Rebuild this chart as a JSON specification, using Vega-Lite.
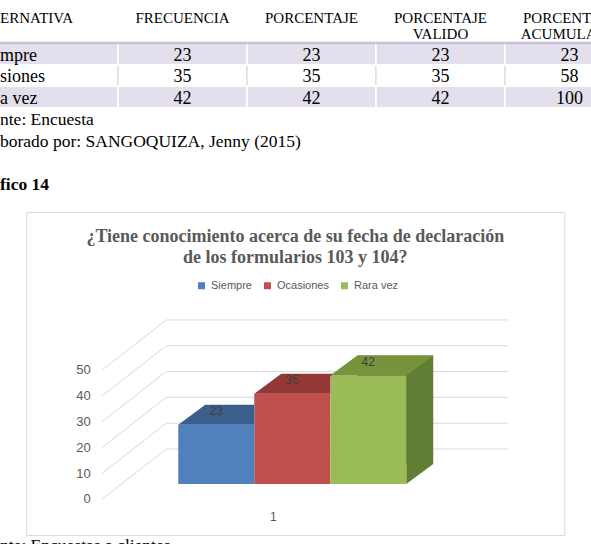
{
  "$schema": "https://vega.github.io/schema/vega-lite/v6.json",
  "padding": 0,
  "background": "white",
  "spacing": 0,
  "center": true,
  "datasets": {
    "tabla": [
      {"row": "h1", "col": "c1", "t": "ERNATIVA"},
      {"row": "h1", "col": "c2", "t": "FRECUENCIA"},
      {"row": "h1", "col": "c3", "t": "PORCENTAJE"},
      {"row": "h1", "col": "c4", "t": "PORCENTAJE"},
      {"row": "h1", "col": "c5", "t": "PORCENTAJE"},
      {"row": "h2", "col": "c4", "t": "VALIDO"},
      {"row": "h2", "col": "c5", "t": "ACUMULADO"},
      {"row": "r1", "col": "c1", "t": "mpre"},
      {"row": "r1", "col": "c2", "t": "23"},
      {"row": "r1", "col": "c3", "t": "23"},
      {"row": "r1", "col": "c4", "t": "23"},
      {"row": "r1", "col": "c5", "t": "23"},
      {"row": "r2", "col": "c1", "t": "siones"},
      {"row": "r2", "col": "c2", "t": "35"},
      {"row": "r2", "col": "c3", "t": "35"},
      {"row": "r2", "col": "c4", "t": "35"},
      {"row": "r2", "col": "c5", "t": "58"},
      {"row": "r3", "col": "c1", "t": "a vez"},
      {"row": "r3", "col": "c2", "t": "42"},
      {"row": "r3", "col": "c3", "t": "42"},
      {"row": "r3", "col": "c4", "t": "42"},
      {"row": "r3", "col": "c5", "t": "100"},
      {"row": "f1", "col": "c1", "t": "nte: Encuesta"},
      {"row": "f2", "col": "c1", "t": "borado por: SANGOQUIZA, Jenny (2015)"},
      {"row": "g", "col": "c1", "t": "fico 14"}
    ],
    "celdas": [
      {"row": "r1", "col": "c1"}, {"row": "r1", "col": "c2"}, {"row": "r1", "col": "c3"}, {"row": "r1", "col": "c4"}, {"row": "r1", "col": "c5"},
      {"row": "r2", "col": "c1"}, {"row": "r2", "col": "c2"}, {"row": "r2", "col": "c3"}, {"row": "r2", "col": "c4"}, {"row": "r2", "col": "c5"},
      {"row": "r3", "col": "c1"}, {"row": "r3", "col": "c2"}, {"row": "r3", "col": "c3"}, {"row": "r3", "col": "c4"}, {"row": "r3", "col": "c5"}
    ],
    "serie": [
      {"serie": "Siempre", "valor": 23},
      {"serie": "Ocasiones", "valor": 35},
      {"serie": "Rara vez", "valor": 42}
    ],
    "ticks": [{"v": 0}, {"v": 10}, {"v": 20}, {"v": 30}, {"v": 40}, {"v": 50}]
  },
  "vconcat": [
    {
      "width": 591,
      "height": 211,
      "view": {"stroke": null},
      "layer": [
        {
          "data": {"name": "celdas"},
          "transform": [{"filter": {"field": "row", "equal": "r2"}}],
          "mark": {"type": "rect", "fill": "white", "stroke": "#d6d1df", "strokeWidth": 1, "clip": true},
          "encoding": {
            "x": {"field": "col", "type": "nominal", "axis": null, "scale": {"type": "band", "domain": ["c1", "c2", "c3", "c4", "c5"], "range": [-11, 634], "paddingInner": 0, "paddingOuter": 0}},
            "y": {"field": "row", "type": "nominal", "axis": null, "scale": {"type": "band", "domain": ["h1", "h2", "r1", "r2", "r3", "f1", "f2", "f3", "g"], "paddingInner": 0, "paddingOuter": 0.394, "align": 0}}
          }
        },
        {
          "data": {"name": "celdas"},
          "transform": [{"filter": {"field": "row", "oneOf": ["r1", "r3"]}}],
          "mark": {"type": "rect", "fill": "#e4dfec", "stroke": "white", "strokeWidth": 1.5, "clip": true},
          "encoding": {
            "x": {"field": "col", "type": "nominal"},
            "y": {"field": "row", "type": "nominal"}
          }
        },
        {
          "data": {"values": [{"row": "r1"}]},
          "mark": {"type": "rule", "color": "#c8c0da", "strokeWidth": 2.5, "clip": true},
          "encoding": {
            "y": {"field": "row", "type": "nominal", "bandPosition": 0}
          }
        },
        {
          "data": {"name": "tabla"},
          "transform": [{"filter": {"and": [{"field": "row", "equal": "h1"}, {"not": {"field": "col", "equal": "c1"}}]}}],
          "mark": {"type": "text", "font": "Liberation Serif", "fontSize": 15, "dy": 7, "color": "black", "clip": true},
          "encoding": {
            "x": {"field": "col", "type": "nominal"},
            "y": {"field": "row", "type": "nominal"},
            "text": {"field": "t"}
          }
        },
        {
          "data": {"name": "tabla"},
          "transform": [{"filter": {"field": "row", "equal": "h2"}}],
          "mark": {"type": "text", "font": "Liberation Serif", "fontSize": 15, "dy": 2, "color": "black", "clip": true},
          "encoding": {
            "x": {"field": "col", "type": "nominal"},
            "y": {"field": "row", "type": "nominal"},
            "text": {"field": "t"}
          }
        },
        {
          "data": {"name": "tabla"},
          "transform": [{"filter": {"and": [{"field": "row", "equal": "h1"}, {"field": "col", "equal": "c1"}]}}],
          "mark": {"type": "text", "font": "Liberation Serif", "fontSize": 15, "dy": 7, "dx": 11, "align": "left", "color": "black", "clip": true},
          "encoding": {
            "x": {"field": "col", "type": "nominal", "bandPosition": 0},
            "y": {"field": "row", "type": "nominal"},
            "text": {"field": "t"}
          }
        },
        {
          "data": {"name": "tabla"},
          "transform": [{"filter": {"and": [{"field": "row", "oneOf": ["r1", "r2", "r3"]}, {"not": {"field": "col", "equal": "c1"}}]}}],
          "mark": {"type": "text", "font": "Liberation Serif", "fontSize": 18, "dy": 2, "color": "black", "clip": true},
          "encoding": {
            "x": {"field": "col", "type": "nominal"},
            "y": {"field": "row", "type": "nominal"},
            "text": {"field": "t"}
          }
        },
        {
          "data": {"name": "tabla"},
          "transform": [{"filter": {"and": [{"field": "row", "oneOf": ["r1", "r2", "r3"]}, {"field": "col", "equal": "c1"}]}}],
          "mark": {"type": "text", "font": "Liberation Serif", "fontSize": 18, "dy": 2, "dx": 11, "align": "left", "color": "black", "clip": true},
          "encoding": {
            "x": {"field": "col", "type": "nominal", "bandPosition": 0},
            "y": {"field": "row", "type": "nominal"},
            "text": {"field": "t"}
          }
        },
        {
          "data": {"name": "tabla"},
          "transform": [{"filter": {"field": "row", "oneOf": ["f1", "f2"]}}],
          "mark": {"type": "text", "font": "Liberation Serif", "fontSize": 17.5, "dy": 1.5, "dx": 11, "align": "left", "color": "black", "clip": true},
          "encoding": {
            "x": {"field": "col", "type": "nominal", "bandPosition": 0},
            "y": {"field": "row", "type": "nominal"},
            "text": {"field": "t"}
          }
        },
        {
          "data": {"name": "tabla"},
          "transform": [{"filter": {"field": "row", "equal": "g"}}],
          "mark": {"type": "text", "font": "Liberation Serif", "fontSize": 17.5, "fontWeight": "bold", "dy": 2, "dx": 11, "align": "left", "color": "black", "clip": true},
          "encoding": {
            "x": {"field": "col", "type": "nominal", "bandPosition": 0},
            "y": {"field": "row", "type": "nominal"},
            "text": {"field": "t"}
          }
        }
      ]
    },
    {
      "width": 538,
      "height": 323,
      "view": {"stroke": "#d9d9d9", "strokeWidth": 1, "fill": "white"},
      "title": {
        "text": ["¿Tiene conocimiento acerca de su fecha de declaración", "de los formularios 103 y 104?"],
        "font": "Liberation Serif",
        "fontSize": 18,
        "fontWeight": "bold",
        "color": "#595959",
        "anchor": "middle",
        "frame": "group",
        "offset": -55,
        "lineHeight": 21
      },
      "layer": [
        {
          "data": {"name": "ticks"},
          "mark": {"type": "rule", "color": "#d9d9d9", "strokeWidth": 1, "xOffset": -50, "x2Offset": 140, "yOffset": -35},
          "encoding": {
            "x": {"datum": "Siempre", "type": "nominal", "axis": null, "scale": {"type": "band", "domain": ["Siempre", "Ocasiones", "Rara vez"], "range": [152, 380], "paddingInner": 0, "paddingOuter": 0}},
            "x2": {"datum": "Rara vez"},
            "y": {
              "field": "v",
              "type": "quantitative",
              "scale": {"domain": [-19.77, 105.4], "nice": false, "zero": false},
              "axis": {"values": [0, 10, 20, 30, 40, 50], "grid": false, "domain": false, "ticks": false, "tickSize": 0, "labelPadding": 0, "offset": -64, "labelOffset": 15, "labelColor": "#595959", "labelFont": "Liberation Sans", "labelFontSize": 13, "title": null}
            }
          }
        },
        {
          "data": {"name": "ticks"},
          "mark": {"type": "rule", "color": "#d9d9d9", "strokeWidth": 1, "xOffset": -114, "x2Offset": -50, "yOffset": 15, "y2Offset": -35},
          "encoding": {
            "x": {"datum": "Siempre", "type": "nominal"},
            "x2": {"datum": "Siempre"},
            "y": {"field": "v", "type": "quantitative"},
            "y2": {"field": "v"}
          }
        },
        {
          "data": {"name": "serie"},
          "transform": [{"filter": {"field": "serie", "equal": "Rara vez"}}],
          "mark": {"type": "bar", "color": "#627d34", "xOffset": 27, "x2Offset": 27, "yOffset": -20, "y2Offset": -20},
          "encoding": {
            "x": {"field": "serie", "type": "nominal"},
            "y": {"field": "valor", "type": "quantitative"},
            "y2": {"datum": 0}
          }
        },
        {
          "data": {"name": "serie"},
          "transform": [{"filter": {"field": "serie", "equal": "Rara vez"}}],
          "mark": {"type": "point", "shape": "M38,0L38,-20L65,-20Z", "size": 4, "filled": true, "color": "#627d34", "opacity": 1, "strokeWidth": 0},
          "encoding": {
            "x": {"field": "serie", "type": "nominal"},
            "y": {"datum": 0, "type": "quantitative"}
          }
        },
        {
          "data": {"name": "serie"},
          "mark": {"type": "bar"},
          "encoding": {
            "x": {"field": "serie", "type": "nominal"},
            "y": {"field": "valor", "type": "quantitative"},
            "y2": {"datum": 0},
            "color": {
              "field": "serie",
              "type": "nominal",
              "scale": {"domain": ["Siempre", "Ocasiones", "Rara vez"], "range": ["#4f81bd", "#c0504d", "#9bbb59"]},
              "legend": {
                "orient": "none", "legendX": 196, "legendY": 280, "direction": "horizontal", "title": null,
                "symbolType": "square", "symbolSize": 49, "symbolStrokeWidth": 0,
                "labelFont": "Liberation Sans", "labelFontSize": 11, "labelColor": "#595959", "labelOffset": 4, "columnPadding": 10,
                "encode": {"symbols": {"update": {"shape": {"value": "square"}, "size": {"value": 49}, "strokeWidth": {"value": 0}}}}
              }
            }
          }
        },
        {
          "data": {"name": "serie"},
          "transform": [{"filter": {"field": "serie", "equal": "Siempre"}}],
          "mark": {"type": "point", "shape": "M-38,0L38,0L38,-20L-11,-20Z", "size": 4, "filled": true, "color": "#3a5f8d", "opacity": 1, "strokeWidth": 0},
          "encoding": {
            "x": {"field": "serie", "type": "nominal"},
            "y": {"field": "valor", "type": "quantitative"}
          }
        },
        {
          "data": {"name": "serie"},
          "transform": [{"filter": {"field": "serie", "equal": "Ocasiones"}}],
          "mark": {"type": "point", "shape": "M-38,0L38,0L38,-17L42,-20L-11,-20Z", "size": 4, "filled": true, "color": "#933836", "opacity": 1, "strokeWidth": 0},
          "encoding": {
            "x": {"field": "serie", "type": "nominal"},
            "y": {"field": "valor", "type": "quantitative"}
          }
        },
        {
          "data": {"name": "serie"},
          "transform": [{"filter": {"field": "serie", "equal": "Rara vez"}}],
          "mark": {"type": "point", "shape": "M-38,0L38,0L65,-20L-11,-20Z", "size": 4, "filled": true, "color": "#77933c", "opacity": 1, "strokeWidth": 0},
          "encoding": {
            "x": {"field": "serie", "type": "nominal"},
            "y": {"field": "valor", "type": "quantitative"}
          }
        },
        {
          "data": {"name": "serie"},
          "mark": {"type": "text", "dy": -14, "font": "Liberation Sans", "fontSize": 12, "color": "#404040"},
          "encoding": {
            "x": {"field": "serie", "type": "nominal"},
            "y": {"field": "valor", "type": "quantitative"},
            "text": {"field": "valor", "type": "quantitative"}
          }
        },
        {
          "data": {"values": [{"t": "1"}]},
          "mark": {"type": "text", "dx": -19, "dy": 33, "font": "Liberation Sans", "fontSize": 12, "color": "#595959"},
          "encoding": {
            "x": {"datum": "Ocasiones", "type": "nominal"},
            "y": {"datum": 0, "type": "quantitative"},
            "text": {"field": "t"}
          }
        }
      ]
    },
    {
      "width": 591,
      "height": 20,
      "view": {"stroke": null},
      "data": {"values": [{"t": "nte: Encuestas a clientes"}]},
      "mark": {"type": "text", "align": "left", "font": "Liberation Serif", "fontSize": 17.5, "baseline": "middle", "color": "black", "clip": true},
      "encoding": {
        "x": {"field": "t", "type": "nominal", "bandPosition": 0, "axis": null, "scale": {"type": "band", "paddingInner": 0, "paddingOuter": 0}},
        "text": {"field": "t"}
      }
    }
  ],
  "config": {"view": {"stroke": null}}
}
